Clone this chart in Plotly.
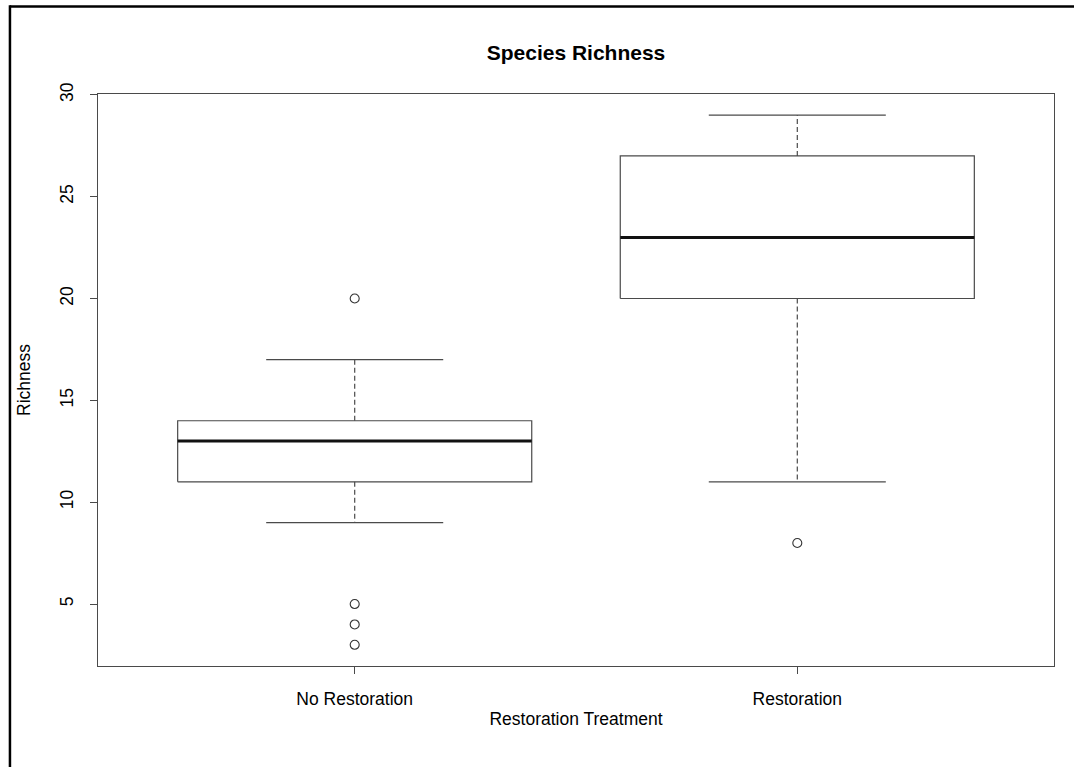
import plotly.graph_objects as go

# ---- data ----
categories = ["No Restoration", "Restoration"]
q1 = [11, 20]
median = [13, 23]
q3 = [14, 27]
lower_whisker = [9, 11]
upper_whisker = [17, 29]
outliers = [[20, 5, 4, 3], [8]]
y_ticks = [5, 10, 15, 20, 25, 30]

positions = list(range(1, len(categories) + 1))
BOX_HALF = 0.4
STAPLE_HALF = 0.2
LINE_COL = "#4a4a4a"
FONT = "Liberation Sans, Arial, sans-serif"
FS = 17.5

fig = go.Figure()

for pos, a, m, b, lo, hi, outs in zip(positions, q1, median, q3,
                                      lower_whisker, upper_whisker, outliers):
    # whiskers (dashed)
    fig.add_trace(go.Scatter(
        x=[pos, pos, None, pos, pos], y=[b, hi, None, a, lo],
        mode="lines", line=dict(color=LINE_COL, width=1.2, dash="5px,3px"),
        hoverinfo="skip", showlegend=False))
    # staples
    fig.add_trace(go.Scatter(
        x=[pos - STAPLE_HALF, pos + STAPLE_HALF, None, pos - STAPLE_HALF, pos + STAPLE_HALF],
        y=[hi, hi, None, lo, lo],
        mode="lines", line=dict(color=LINE_COL, width=1.2),
        hoverinfo="skip", showlegend=False))
    # box
    fig.add_trace(go.Scatter(
        x=[pos - BOX_HALF, pos + BOX_HALF, pos + BOX_HALF, pos - BOX_HALF, pos - BOX_HALF],
        y=[a, a, b, b, a],
        mode="lines", line=dict(color=LINE_COL, width=1.2),
        hoverinfo="skip", showlegend=False))
    # median
    fig.add_trace(go.Scatter(
        x=[pos - BOX_HALF, pos + BOX_HALF], y=[m, m],
        mode="lines", line=dict(color="#111111", width=3),
        hoverinfo="skip", showlegend=False))
    # outliers
    fig.add_trace(go.Scatter(
        x=[pos] * len(outs), y=outs, mode="markers",
        marker=dict(symbol="circle-open", size=9, color="#333333",
                    line=dict(width=1.1)),
        hoverinfo="y", showlegend=False))

# outer window frame (top and left edges, as in the screenshot)
fig.add_shape(type="line", xref="paper", yref="paper",
              x0=-0.0921, x1=1.03, y0=1.1530, y1=1.1530,
              line=dict(color="black", width=2.5))
fig.add_shape(type="line", xref="paper", yref="paper",
              x0=-0.0921, x1=-0.0921, y0=1.155, y1=-0.2,
              line=dict(color="black", width=2.5))

fig.update_layout(
    width=1074, height=767,
    margin=dict(l=98, r=20, t=94, b=101),
    paper_bgcolor="white", plot_bgcolor="white",
    font=dict(family=FONT, size=FS, color="black"),
    title=dict(text="<b>Species Richness</b>", x=576 / 1074, xanchor="center",
               y=1 - 53 / 767, yanchor="middle",
               font=dict(family=FONT, size=21, color="black")),
    xaxis=dict(range=[0.42, 2.58], tickmode="array", tickvals=positions,
               ticktext=categories, showgrid=False, zeroline=False,
               showline=True, mirror=True, linecolor=LINE_COL, linewidth=1.2,
               ticks="outside", ticklen=7, tickcolor=LINE_COL,
               tickfont=dict(size=FS), ticklabelstandoff=10,
               title=dict(text="Restoration Treatment", standoff=4,
                          font=dict(size=FS))),
    yaxis=dict(range=[1.96, 30.04], tickmode="array", tickvals=y_ticks,
               showgrid=False, zeroline=False,
               showline=True, mirror=True, linecolor=LINE_COL, linewidth=1.2,
               ticks="outside", ticklen=7, tickcolor=LINE_COL,
               tickangle=-90, tickfont=dict(size=FS), ticklabelstandoff=10,
               title=dict(text="Richness", standoff=21, font=dict(size=FS))),
)

fig.write_html("out.html")
